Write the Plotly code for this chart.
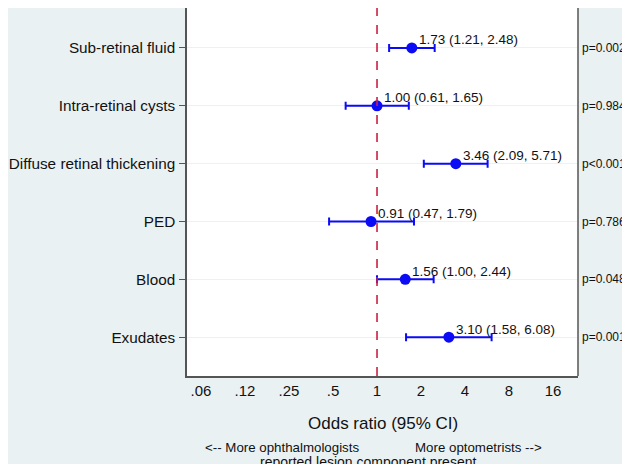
import math
import plotly.graph_objects as go

categories = ["Sub-retinal fluid", "Intra-retinal cysts", "Diffuse retinal thickening",
              "PED", "Blood", "Exudates"]
odds_ratio = [1.73, 1.00, 3.46, 0.91, 1.56, 3.10]
ci_low = [1.21, 0.61, 2.09, 0.47, 1.00, 1.58]
ci_high = [2.48, 1.65, 5.71, 1.79, 2.44, 6.08]
p_values = ["p=0.002", "p=0.984", "p<0.001", "p=0.786", "p=0.048", "p=0.001"]
tick_vals = [0.0625, 0.125, 0.25, 0.5, 1, 2, 4, 8, 16]
tick_text = [".06", ".12", ".25", ".5", "1", "2", "4", "8", "16"]

# page offset of the figure (body margin)
OX, OY = 8, 8
W, H = 622, 456
L, R, T, B = 187 - OX, 630 - 578, 0, H - (376 - OY)
pw, ph = W - L - R, H - T - B

BG = "#eaf1f3"
BLUE = "#0b0bf5"
RED = "#cc1f3f"
AX = "#555555"
FONT = "Arial, Liberation Sans, sans-serif"

def px_x(p):  # page px -> paper
    return (p - OX - L) / pw

def px_y(p):
    return (H - B - (p - OY)) / ph

fig = go.Figure()
fig.add_trace(go.Scatter(
    x=odds_ratio, y=categories, mode="markers",
    marker=dict(color=BLUE, size=11),
    error_x=dict(type="data", symmetric=False,
                 array=[h - o for h, o in zip(ci_high, odds_ratio)],
                 arrayminus=[o - l for o, l in zip(odds_ratio, ci_low)],
                 color=BLUE, thickness=2, width=4),
    showlegend=False, hoverinfo="skip"))

annotations = []
for c, o, l, h in zip(categories, odds_ratio, ci_low, ci_high):
    annotations.append(dict(x=math.log10(o), y=c, xref="x", yref="y",
                            text=f"{o:.2f} ({l:.2f}, {h:.2f})", showarrow=False,
                            xanchor="left", yanchor="middle", xshift=5, yshift=8,
                            font=dict(size=13.5, color="#111", family=FONT)))
for c, p in zip(categories, p_values):
    annotations.append(dict(x=1, y=c, xref="paper", yref="y", text=p, showarrow=False,
                            xanchor="left", yanchor="middle", xshift=1.5, yshift=0,
                            font=dict(size=12, color="#111", family=FONT)))
annotations.append(dict(x=0.5, y=px_y(423), xref="paper", yref="paper",
                        text="Odds ratio (95% CI)", showarrow=False,
                        xanchor="center", yanchor="middle",
                        font=dict(size=17, color="#111", family=FONT)))
annotations.append(dict(x=px_x(203), y=px_y(447.5), xref="paper", yref="paper",
                        text="<-- More ophthalmologists", showarrow=False,
                        xanchor="left", yanchor="middle",
                        font=dict(size=13.3, color="#111", family=FONT)))
annotations.append(dict(x=px_x(544), y=px_y(447.5), xref="paper", yref="paper",
                        text="More optometrists -->", showarrow=False,
                        xanchor="right", yanchor="middle",
                        font=dict(size=13.3, color="#111", family=FONT)))
annotations.append(dict(x=px_x(367.5), y=px_y(462), xref="paper", yref="paper",
                        text="reported lesion component present", showarrow=False,
                        xanchor="center", yanchor="middle",
                        font=dict(size=14, color="#111", family=FONT)))

shapes = [
    dict(type="line", xref="paper", yref="paper", x0=1, x1=1, y0=0, y1=1,
         line=dict(color=AX, width=1.5)),
    dict(type="line", xref="x", yref="paper", x0=1, x1=1, y0=0, y1=1,
         line=dict(color=RED, width=1.6, dash="dash")),
]

fig.update_layout(
    width=W, height=H,
    margin=dict(l=L, r=R, t=T, b=B, pad=0),
    paper_bgcolor=BG, plot_bgcolor="white",
    font=dict(family=FONT, color="#111"),
    xaxis=dict(type="log", range=[-1.300, 1.375], tickvals=tick_vals, ticktext=tick_text,
               showgrid=False, zeroline=False, showline=True, linecolor=AX, linewidth=1.5,
               ticks="", tickfont=dict(size=15, family=FONT, color="#111")),
    yaxis=dict(type="category", categoryarray=categories, range=[5.67, -0.69],
               showgrid=True, gridcolor="#eef1f4", gridwidth=1,
               showline=True, linecolor=AX, linewidth=1.5,
               ticks="outside", ticklen=6, tickcolor=AX, tickwidth=1.2,
               ticklabelstandoff=1,
               tickfont=dict(size=15.3, family=FONT, color="#111")),
    annotations=annotations, shapes=shapes,
)

fig.write_html("out.html")
